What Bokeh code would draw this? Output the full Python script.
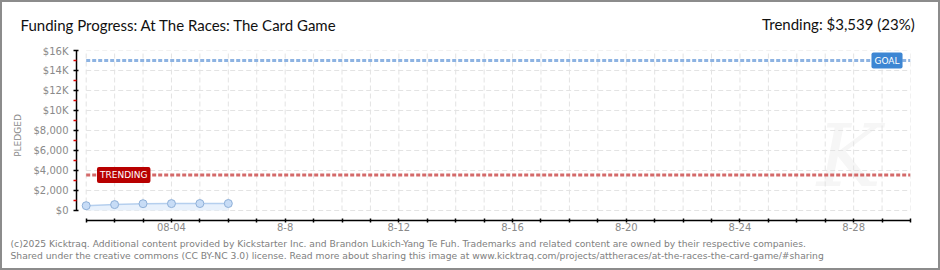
from bokeh.plotting import figure
from bokeh.models import Range1d, FixedTicker, Label, ColumnDataSource
from bokeh.layouts import column
from bokeh.embed import file_html
from bokeh.resources import INLINE

# ---------------- data ----------------
days = [1, 2, 3, 4, 5, 6]                     # August day of each snapshot
pledged = [480, 590, 680, 690, 695, 700]       # pledged $
goal = 15000
trending = 3539
trending_pct = 23
x_tick_days = list(range(1, 31))
x_tick_labels = {4: "08-04", 8: "8-8", 12: "8-12", 16: "8-16",
                 20: "8-20", 24: "8-24", 28: "8-28"}
y_ticks = [0, 2000, 4000, 6000, 8000, 10000, 12000, 14000, 16000]
y_tick_labels = ["$0", "$2,000", "$4,000", "$6,000", "$8,000",
                 "$10K", "$12K", "$14K", "$16K"]
y_minor = [1000, 3000, 5000, 7000, 9000, 11000, 13000, 15000]
title_text = "Funding Progress: At The Races: The Card Game"
trend_text = "Trending:  $3,539 (23%)"
footer1 = ("(c)2025 Kicktraq. Additional content provided by Kickstarter Inc. and "
           "Brandon Lukich-Yang Te Fuh. Trademarks and related content are owned by "
           "their respective companies.")
footer2 = ("Shared under the creative commons (CC BY-NC 3.0) license. Read more about "
           "sharing this image at www.kicktraq.com/projects/attheraces/"
           "at-the-races-the-card-game/#sharing")

# ---------------- layout (window pixels; content box starts at 2,2) ----------------
B = 2
CW = 940 - 2 * B
HDR_TOP, MAIN_TOP, FOOT_TOP, BOTTOM = B, 45, 236, 270 - B
FL, FR, FT, FB = 76, 910, 50, 220          # frame edges in window pixels
x0, x1 = 0.659, 30.0
y0, y1 = -1000, 16000

AX_FONT = "DejaVu Sans"
TFONT = "Liberation Sans Narrow, Lato, sans-serif"
GRAY = "#8a8a8a"


def blank(top, bottom):
    h = bottom - top
    f = figure(width=CW, height=h, output_backend="svg", toolbar_location=None,
               x_range=Range1d(B, B + CW), y_range=Range1d(bottom, top),
               x_axis_location=None, y_axis_location=None, tools="",
               min_border=0, min_border_left=0, min_border_right=0,
               min_border_top=0, min_border_bottom=0, frame_align=False,
               background_fill_color="white",
               border_fill_color="white", outline_line_color=None)
    f.xgrid.visible = False
    f.ygrid.visible = False
    return f


# ---------------- header ----------------
hdr = blank(HDR_TOP, MAIN_TOP)
hdr.add_layout(Label(x=20, y=24, text=title_text, text_align="left",
                     text_baseline="middle", text_font=TFONT,
                     text_font_size="15px", text_color="#111111"))
hdr.add_layout(Label(x=918, y=23, text=trend_text, text_align="right",
                     text_baseline="middle", text_font=TFONT,
                     text_font_size="15px", text_color="#111111"))

# ---------------- main chart ----------------
p = figure(width=CW, height=FOOT_TOP - MAIN_TOP, output_backend="svg",
           toolbar_location=None, tools="", frame_align=False,
           x_range=Range1d(x0, x1), y_range=Range1d(y0, y1),
           min_border_left=FL - B, min_border_right=(B + CW) - FR,
           min_border_top=FT - MAIN_TOP, min_border_bottom=FOOT_TOP - FB,
           background_fill_color="white", border_fill_color="white",
           outline_line_color=None)
p.xgrid.visible = False
p.ygrid.visible = False

xa = p.xaxis[0]
xa.ticker = FixedTicker(ticks=x_tick_days)
xa.bounds = (x_tick_days[0], x_tick_days[-1])
xa.major_label_overrides = {d: x_tick_labels.get(d, "") for d in x_tick_days}
xa.major_tick_in = 2
xa.major_tick_out = 2
xa.minor_tick_line_color = None
xa.axis_line_width = 1.5
xa.major_tick_line_width = 1.5
xa.axis_line_color = "black"
xa.major_label_text_font = AX_FONT
xa.major_label_text_font_size = "10px"
xa.major_label_text_color = GRAY
xa.major_label_standoff = 0

ya = p.yaxis[0]
ya.ticker = FixedTicker(ticks=y_ticks, minor_ticks=y_minor)
ya.bounds = (y_ticks[0], y_ticks[-1])
ya.major_label_overrides = dict(zip(y_ticks, y_tick_labels))
ya.major_tick_in = 2
ya.major_tick_out = 3
ya.major_tick_line_width = 1.5
ya.minor_tick_in = 0
ya.minor_tick_out = 3
ya.minor_tick_line_color = "#e00000"
ya.minor_tick_line_width = 1.5
ya.axis_line_width = 1.5
ya.axis_line_color = "black"
ya.major_label_text_font = AX_FONT
ya.major_label_text_font_size = "10px"
ya.major_label_text_color = GRAY
ya.major_label_standoff = 5
ya.axis_label = "PLEDGED"
ya.axis_label_text_font = AX_FONT
ya.axis_label_text_font_size = "9px"
ya.axis_label_text_font_style = "normal"
ya.axis_label_text_color = GRAY
ya.axis_label_standoff = 8

# watermark
p.add_layout(Label(x=26.7, y=500, text="K", text_font="DejaVu Serif",
                   text_font_size="86px", text_font_style="italic",
                   text_color="#f6f6f6", level="underlay"))

GRID = "#e3e3e3"
p.segment(x0=[x_tick_days[0]] * len(y_ticks), x1=[x_tick_days[-1]] * len(y_ticks),
          y0=y_ticks, y1=y_ticks, line_color=GRID, line_width=1, line_dash="5 3")
p.segment(x0=x_tick_days, x1=x_tick_days, y0=[y_ticks[0]] * len(x_tick_days),
          y1=[y_ticks[-1]] * len(x_tick_days), line_color=GRID, line_width=1,
          line_dash="5 3")

p.line([x_tick_days[0], x_tick_days[-1]], [goal, goal], line_color="#8db3e2",
       line_width=3, line_dash="4 2")
p.line([x_tick_days[0], x_tick_days[-1]], [trending, trending], line_color="#d46a6a",
       line_width=3, line_dash="4 2")

src = ColumnDataSource(dict(x=days, y=pledged, z=[0] * len(days)))
p.varea(x="x", y1="z", y2="y", source=src, fill_color="#e8f1fc")
p.line(x="x", y="y", source=src, line_color="#b5cfee", line_width=1.5)
p.scatter(x="x", y="y", source=src, size=8, fill_color="#c7dcf6",
          line_color="#8fb0d8", line_width=1)

p.add_layout(Label(x=29.72, y=goal, text="GOAL", text_align="right",
                   text_baseline="middle", text_color="white",
                   text_font=AX_FONT, text_font_size="9px",
                   background_fill_color="#3d86d3", border_radius=2, padding=3))
p.add_layout(Label(x=1.38, y=trending, text="TRENDING", text_align="left",
                   text_baseline="middle", text_color="white",
                   text_font=AX_FONT, text_font_size="9px",
                   background_fill_color="#b80000", border_radius=2, padding=3))

# ---------------- footer ----------------
ftr = blank(FOOT_TOP, BOTTOM)
for txt, py in [(footer1, 243), (footer2, 255)]:
    ftr.add_layout(Label(x=10, y=py, text=txt, text_align="left",
                         text_baseline="middle", text_font=AX_FONT,
                         text_font_size="9.2px", text_color="#808080"))

layout = column(hdr, p, ftr, spacing=0,
                styles={"border": "2px solid #8c8c8c", "background": "white"})
open("out.html", "w").write(file_html(layout, INLINE))
